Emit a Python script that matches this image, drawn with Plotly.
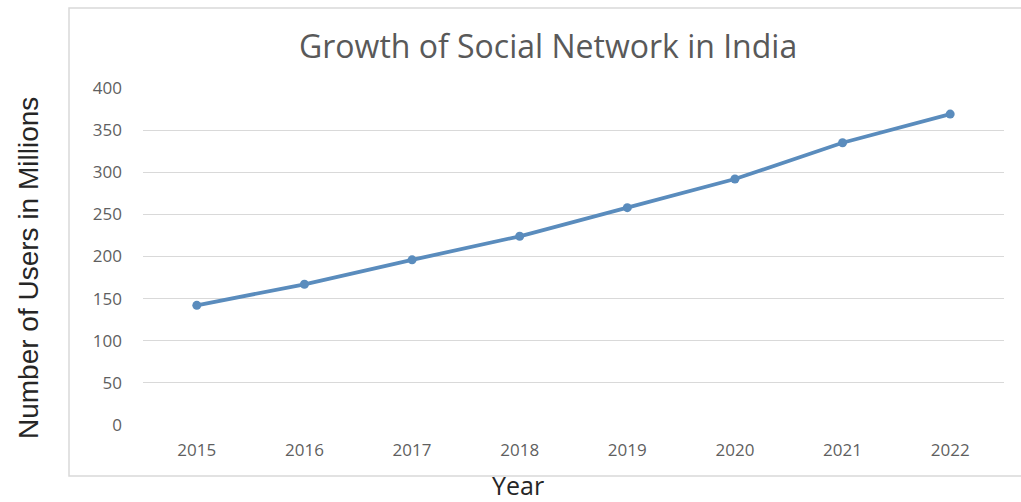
import plotly.graph_objects as go

years = ["2015", "2016", "2017", "2018", "2019", "2020", "2021", "2022"]
users = [142, 167, 196, 224, 258, 292, 335, 369]
y_ticks = [0, 50, 100, 150, 200, 250, 300, 350, 400]

W, H = 1021, 502
ml, mr, mt, mb = 143, 17, 88, 77
pw, ph = W - ml - mr, H - mt - mb

def px_x(x):
    return (x - ml) / pw

def px_y(y):
    return (H - mb - y) / ph

fig = go.Figure(go.Scatter(
    x=years, y=users, mode="lines+markers",
    line=dict(color="#5a8cbd", width=3.8),
    marker=dict(color="#5a8cbd", size=9),
    hoverinfo="x+y",
))

fig.update_layout(
    width=W, height=H,
    margin=dict(l=ml, r=mr, t=mt, b=mb, autoexpand=False),
    paper_bgcolor="white", plot_bgcolor="white",
    showlegend=False,
    font=dict(family="Open Sans", color="#595959"),
    xaxis=dict(type="category", range=[-0.5, 7.5], showgrid=False, showline=False, ticks="",
               tickfont=dict(size=17, color="#5f5f5f"), ticklabelstandoff=13, automargin=False),
    yaxis=dict(range=[0, 400], tickvals=y_ticks, showgrid=True, gridcolor="#d9d9d9",
               gridwidth=1, zeroline=False, showline=False, ticks="",
               tickfont=dict(size=17, color="#5f5f5f"), ticklabelstandoff=20, automargin=False),
    shapes=[dict(type="rect", xref="paper", yref="paper",
                 x0=px_x(69), x1=px_x(1030), y0=px_y(476), y1=px_y(8),
                 line=dict(color="#d9d9d9", width=1.5), layer="below")],
    annotations=[
        dict(text="Growth of Social Network in India", xref="paper", yref="paper",
             x=px_x(548), y=px_y(46), xanchor="center", yanchor="middle", showarrow=False,
             font=dict(family="Open Sans", size=32, color="#595959")),
        dict(text="Number of Users in Millions", xref="paper", yref="paper",
             x=px_x(28), y=px_y(268), xanchor="center", yanchor="middle", showarrow=False,
             textangle=-90,
             font=dict(family="Liberation Sans", size=28, color="#262626")),
        dict(text="Year", xref="paper", yref="paper",
             x=px_x(518), y=px_y(485), xanchor="center", yanchor="middle", showarrow=False,
             font=dict(family="Open Sans", size=25, color="#262626")),
    ],
)

fig.write_html("out.html")
